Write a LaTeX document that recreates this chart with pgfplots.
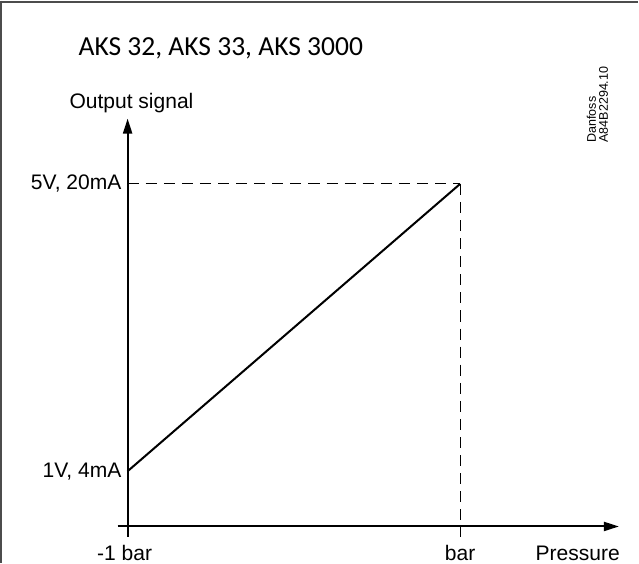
\documentclass[border=0pt]{standalone}
\usepackage{pgfplots}
\pgfplotsset{compat=1.18}
\usepackage{fontspec}
\setmainfont{Liberation Sans}
\newfontfamily\titlefont{Carlito}
\usetikzlibrary{arrows.meta}
\begin{document}
\begin{tikzpicture}
\begin{axis}[
  scale only axis, width=639bp, height=563bp,
  xmin=-0.3958, xmax=1.5347, ymin=-0.2727, ymax=7.6014,
  axis lines=none, ticks=none, clip=false,
]
% axes
\draw[line width=2bp, -{Triangle[length=15bp,width=9bp]}] (axis cs:-0.0302,0.2308) -- (axis cs:1.4773,0.2308);
\draw[line width=2bp, -{Triangle[length=15bp,width=9bp]}] (axis cs:0,0.0909) -- (axis cs:0,5.909);
% guides
\addplot[black, line width=1bp, dash pattern=on 11bp off 7bp] coordinates {(0,5) (1,5)};
\addplot[black, line width=1bp, dash pattern=on 11bp off 7bp] coordinates {(1,5) (1,0.0909)};
% signal
\addplot[black, line width=2bp] coordinates {(0,1) (1,5)};
\end{axis}
\begin{scope}[x=1bp, y=-1bp, shift={(0,563bp)}]
\draw[line width=2bp, black!70, line cap=butt] (5,5) -- (639,5);
\draw[line width=2bp, black!70, line cap=butt] (5,4) -- (5,563);
\node[anchor=base west, inner sep=0pt, font=\titlefont\fontsize{27.5}{30}\selectfont] at (82,58) {AKS 32, AKS 33, AKS 3000};
\node[anchor=base west, inner sep=0pt, font=\fontsize{21}{24}\selectfont] at (73,111) {Output signal};
\node[anchor=base east, inner sep=0pt, font=\fontsize{21}{24}\selectfont] at (125,192) {5V, 20mA};
\node[anchor=base east, inner sep=0pt, font=\fontsize{21}{24}\selectfont] at (125,478) {1V, 4mA};
\node[anchor=base, inner sep=0pt, font=\fontsize{21}{24}\selectfont] at (128,561) {-1 bar};
\node[anchor=base, inner sep=0pt, font=\fontsize{21}{24}\selectfont] at (462,561) {bar};
\node[anchor=base east, inner sep=0pt, font=\fontsize{21}{24}\selectfont] at (621,561) {Pressure};
\node[rotate=90, anchor=base west, inner sep=0pt, font=\fontsize{12.5}{14}\selectfont] at (597,145) {Danfoss};
\node[rotate=90, anchor=base west, inner sep=0pt, font=\fontsize{12.5}{14}\selectfont] at (609,145) {A84B2294.10};
\end{scope}
\end{tikzpicture}
\end{document}
